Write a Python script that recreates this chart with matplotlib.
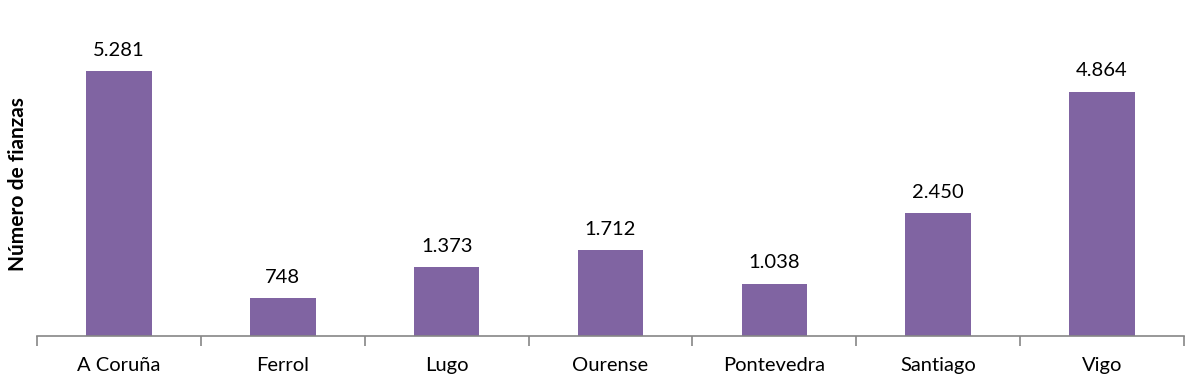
import matplotlib.pyplot as plt
import numpy as np

plt.rcParams['font.family'] = ['Lato', 'DejaVu Sans']

ciudades = ["A Coruña", "Ferrol", "Lugo", "Ourense", "Pontevedra", "Santiago", "Vigo"]
fianzas = [5281, 748, 1373, 1712, 1038, 2450, 4864]
etiquetas = ["5.281", "748", "1.373", "1.712", "1.038", "2.450", "4.864"]

fig = plt.figure(figsize=(11.91, 3.88), dpi=100)
ax = fig.add_axes([0.0311, 0.134, 0.963, 0.776])

x = np.arange(len(ciudades))
bars = ax.bar(x, fianzas, width=0.4, color='#8064A2')

for b, txt in zip(bars, etiquetas):
    ax.annotate(txt, (b.get_x() + b.get_width() / 2, b.get_height()),
                xytext=(0, 9), textcoords='offset points',
                ha='center', va='bottom', fontsize=14.5, color='black')

ax.set_xlim(-0.5, len(ciudades) - 0.5)
ax.set_ylim(0, 6000)

for s in ['top', 'right', 'left']:
    ax.spines[s].set_visible(False)
ax.spines['bottom'].set_color('#868686')
ax.spines['bottom'].set_linewidth(1.2)

ax.set_yticks([])
ax.set_xticks(np.arange(-0.5, len(ciudades), 1.0))
ax.set_xticklabels([])
ax.set_xticks(x, minor=True)
ax.set_xticklabels(ciudades, minor=True, fontsize=14.5)
ax.tick_params(axis='x', which='major', length=7, width=1.2, color='#868686', direction='out')
ax.tick_params(axis='x', which='minor', length=0, pad=15)

fig.text(0.015, 0.525, "Número de fianzas", rotation=90, ha='center', va='center',
         fontsize=15, fontweight='bold')

fig.savefig('out.png', dpi=100)
